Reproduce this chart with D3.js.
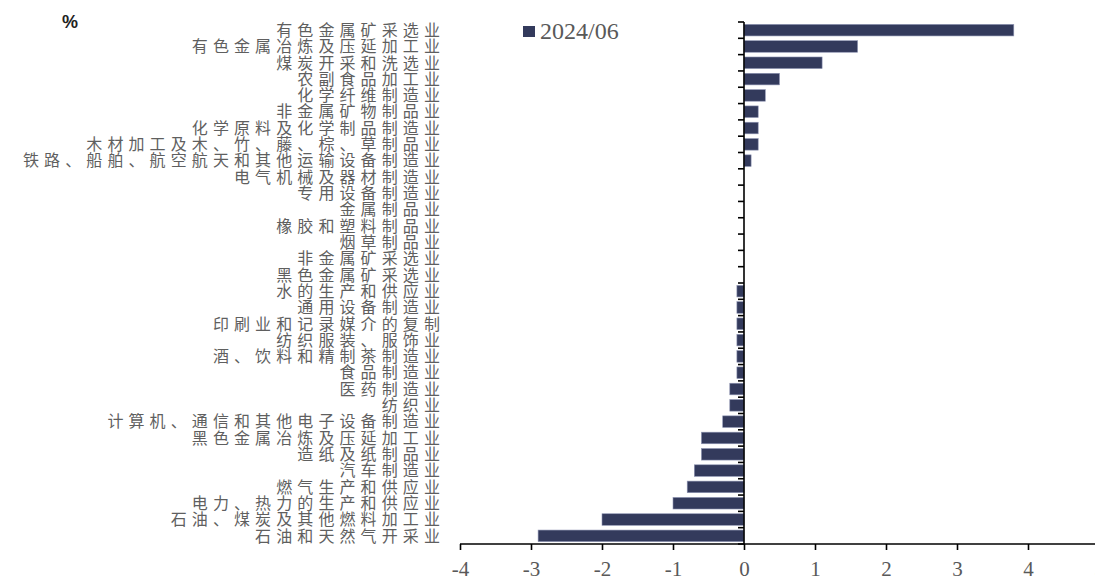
<!DOCTYPE html>
<html>
<head>
<meta charset="utf-8">
<script src="https://cdn.jsdelivr.net/npm/d3@7"></script>
<style>
  html, body { margin: 0; padding: 0; background: #fff; }
  svg { display: block; }
</style>
</head>
<body>
<svg id="chart" width="1095" height="582"></svg>
<script>
// Industry categories, top to bottom
const categories = [
  "有色金属矿采选业",
  "有色金属冶炼及压延加工业",
  "煤炭开采和洗选业",
  "农副食品加工业",
  "化学纤维制造业",
  "非金属矿物制品业",
  "化学原料及化学制品制造业",
  "木材加工及木、竹、藤、棕、草制品业",
  "铁路、船舶、航空航天和其他运输设备制造业",
  "电气机械及器材制造业",
  "专用设备制造业",
  "金属制品业",
  "橡胶和塑料制品业",
  "烟草制品业",
  "非金属矿采选业",
  "黑色金属矿采选业",
  "水的生产和供应业",
  "通用设备制造业",
  "印刷业和记录媒介的复制",
  "纺织服装、服饰业",
  "酒、饮料和精制茶制造业",
  "食品制造业",
  "医药制造业",
  "纺织业",
  "计算机、通信和其他电子设备制造业",
  "黑色金属冶炼及压延加工业",
  "造纸及纸制品业",
  "汽车制造业",
  "燃气生产和供应业",
  "电力、热力的生产和供应业",
  "石油、煤炭及其他燃料加工业",
  "石油和天然气开采业"
];

// 2024/06 values, %
const values2024_06 = [
  3.8, 1.6, 1.1, 0.5, 0.3, 0.2, 0.2, 0.2, 0.1,
  0, 0, 0, 0, 0, 0, 0,
  -0.1, -0.1, -0.1, -0.1, -0.1, -0.1,
  -0.2, -0.2, -0.3, -0.6, -0.6, -0.7, -0.8, -1.0, -2.0, -2.9
];

const xTicks = [-4, -3, -2, -1, 0, 1, 2, 3, 4, 5];
const seriesName = "2024/06";
const unitLabel = "%";

const data = categories.map((c, i) => ({ cat: c, value: values2024_06[i] }));

const svg = d3.select("#chart");
const barColor = "#333a5c";
const textColor = "#595959";

const x = d3.scaleLinear().domain([-4, 5]).range([460, 1099]);
const y = d3.scaleBand().domain(categories).range([22, 544]).paddingInner(0.29).paddingOuter(0.145);
const step = y.step();

// bars
svg.append("g")
  .selectAll("rect")
  .data(data)
  .join("rect")
  .attr("x", d => x(Math.min(0, d.value)))
  .attr("y", d => y(d.cat))
  .attr("width", d => Math.abs(x(d.value) - x(0)))
  .attr("height", y.bandwidth())
  .attr("fill", barColor)
  .attr("stroke", d => d.value === 0 ? "none" : "#8f95b3")
  .attr("stroke-width", 0.6);

// vertical axis at zero with ticks at band boundaries
const bounds = categories.map(c => y(c) - y.paddingInner() * step / 2);
bounds.push(y.range()[1]);
const zeroAxis = svg.append("g");
zeroAxis.append("line")
  .attr("x1", x(0)).attr("x2", x(0))
  .attr("y1", y.range()[0]).attr("y2", y.range()[1])
  .attr("stroke", "#000").attr("stroke-width", 1.6);
zeroAxis.selectAll("line.tk")
  .data(bounds)
  .join("line")
  .attr("class", "tk")
  .attr("x1", x(0) - 6).attr("x2", x(0))
  .attr("y1", d => d).attr("y2", d => d)
  .attr("stroke", "#000").attr("stroke-width", 1.6);

// category labels, placed at the low end of the value axis
const catAxis = svg.append("g")
  .attr("transform", "translate(445,0)")
  .call(d3.axisLeft(y).tickSize(0).tickPadding(0));
catAxis.select(".domain").remove();
catAxis.selectAll("text")
  .attr("fill", "#5f5f5f")
  .style("font-family", "'Noto Sans CJK SC', sans-serif")
  .style("font-size", "16px")
  .style("letter-spacing", "5.1px")
  .attr("dy", "0.36em");

// bottom value axis (plain hyphen-minus for negatives)
const xAxis = svg.append("g")
  .attr("transform", `translate(0,${y.range()[1]})`)
  .call(d3.axisBottom(x).tickValues(xTicks).tickSize(6).tickPadding(11).tickFormat(d => String(d)));
xAxis.select(".domain")
  .attr("d", `M${x(-4)},0H1095`)
  .attr("stroke", "#000").attr("stroke-width", 1.6);
xAxis.selectAll(".tick line").attr("stroke", "#000").attr("stroke-width", 1.6);
xAxis.selectAll("text")
  .attr("fill", textColor)
  .style("font-family", "'Liberation Serif', 'Times New Roman', serif")
  .style("font-size", "21px");

// legend
const legend = svg.append("g").attr("transform", "translate(523,26)");
legend.append("rect").attr("width", 12).attr("height", 11).attr("fill", barColor);
legend.append("text")
  .attr("x", 17).attr("y", 13)
  .attr("fill", textColor)
  .style("font-family", "'Liberation Serif', 'Times New Roman', serif")
  .style("font-size", "24px")
  .text(seriesName);

// unit label
svg.append("text")
  .attr("x", 70).attr("y", 28)
  .attr("text-anchor", "middle")
  .attr("fill", "#222")
  .style("font-family", "'Liberation Sans Narrow', 'Liberation Sans', sans-serif")
  .style("font-size", "18px")
  .style("font-weight", "bold")
  .text(unitLabel);
</script>
</body>
</html>
